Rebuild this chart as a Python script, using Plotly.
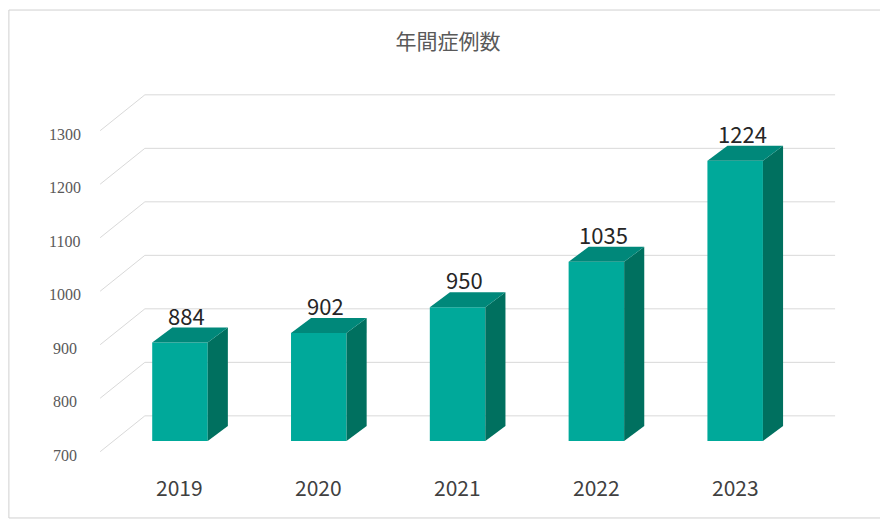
import plotly.graph_objects as go

years = ["2019", "2020", "2021", "2022", "2023"]
cases = [884, 902, 950, 1035, 1224]
ticks = [700, 800, 900, 1000, 1100, 1200, 1300]

FRONT = "#00a99a"
SIDE = "#00705f"
TOP = "#00887a"
BASE = 700
HALF = 0.2      # half bar width in category units
DX, DY = 0.145, 28  # depth offset (x units, y units)

idx = list(range(len(years)))
fig = go.Figure()

# gridlines: slanted left wall + back wall
for t in ticks:
    fig.add_trace(go.Scatter(
        x=[-0.575, -0.253, 4.72], y=[t - 20, t + 47, t + 47],
        mode="lines", line=dict(color="#d9d9d9", width=1),
        hoverinfo="skip", showlegend=False))
    fig.add_annotation(x=-0.83, y=t - 27, text=str(t), showarrow=False,
                       font=dict(family="Liberation Serif", size=16, color="#595959"))

# bars as front, side and top faces
for i, v in zip(idx, cases):
    r = i + HALF
    l = i - HALF
    fig.add_trace(go.Scatter(
        x=[l, r, r, l, l], y=[BASE, BASE, v, v, BASE],
        fill="toself", fillcolor=FRONT, mode="lines", line=dict(width=0),
        hoverinfo="skip", showlegend=False))
    fig.add_trace(go.Scatter(
        x=[r, r + DX, r + DX, r, r], y=[BASE, BASE + DY, v + DY, v, BASE],
        fill="toself", fillcolor=SIDE, mode="lines", line=dict(width=0),
        hoverinfo="skip", showlegend=False))
    fig.add_trace(go.Scatter(
        x=[l, r, r + DX, l + DX, l], y=[v, v, v + DY, v + DY, v],
        fill="toself", fillcolor=TOP, mode="lines", line=dict(width=0),
        hoverinfo="skip", showlegend=False))
    fig.add_annotation(x=i + 0.05, y=v + 52, text=str(v), showarrow=False,
                       font=dict(family="Noto Sans CJK JP", size=22, color="#262626"))
    fig.add_annotation(x=i, y=BASE - 86, text=years[i], showarrow=False,
                       font=dict(family="Noto Sans CJK JP", size=21, color="#404040"))

fig.add_shape(type="rect", xref="paper", yref="paper", x0=0.001, y0=0.002, x1=0.997, y1=0.996,
              line=dict(color="#d0d0d0", width=1))

fig.update_layout(
    width=880, height=511,
    margin=dict(l=0, r=0, t=0, b=0),
    paper_bgcolor="white", plot_bgcolor="white",
    title=dict(text="年間症例数", x=0.5, y=0.935, xanchor="center", yanchor="middle",
               font=dict(family="Noto Sans CJK JP", size=21, color="#595959")),
    xaxis=dict(range=[-1.239, 5.101], visible=False, fixedrange=True),
    yaxis=dict(range=[554.2, 1509.3], visible=False, fixedrange=True),
)

fig.write_html("out.html")
